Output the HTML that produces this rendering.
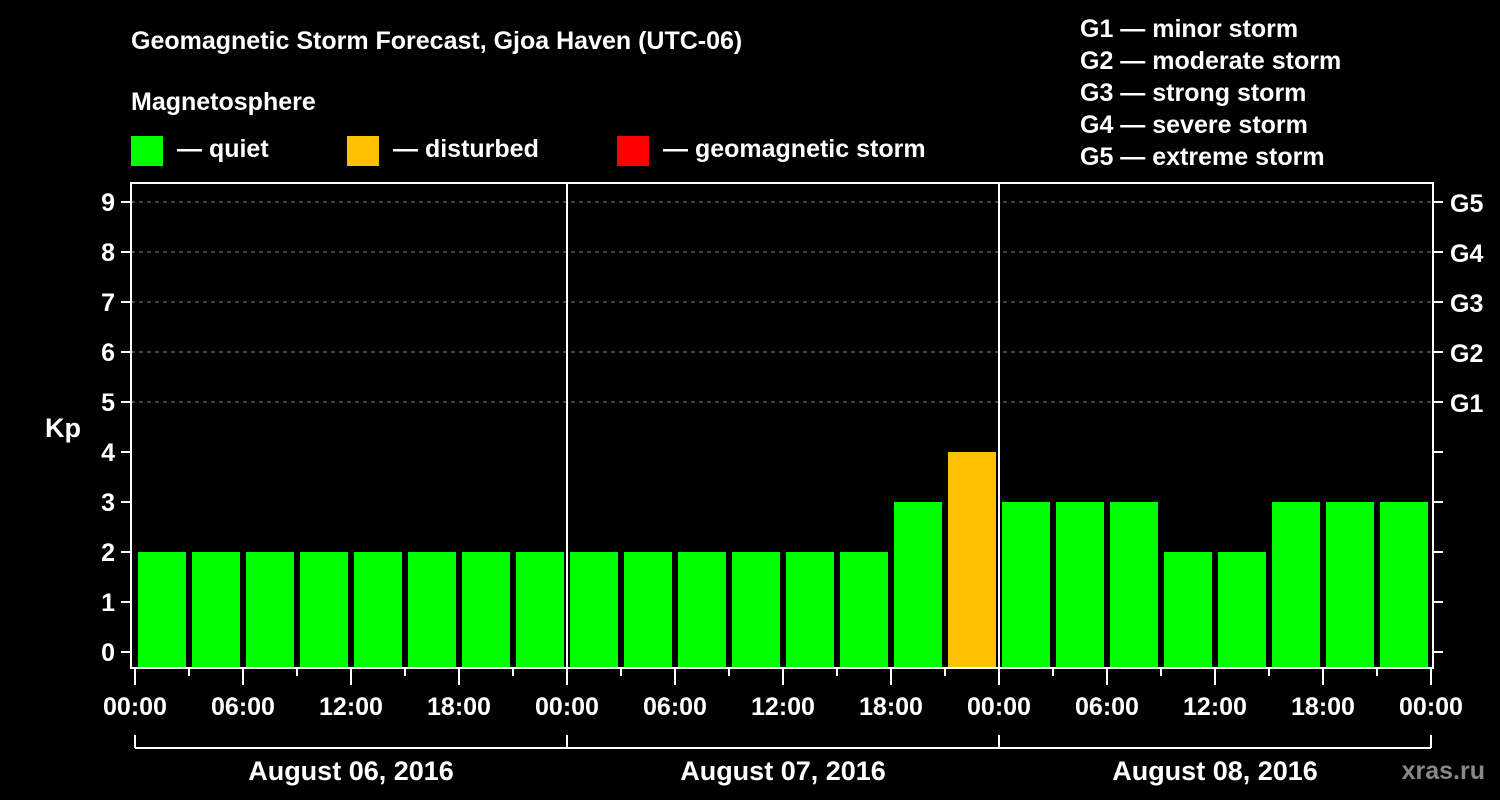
<!DOCTYPE html>
<html><head><meta charset="utf-8"><style>
html,body{margin:0;padding:0;background:#000;}
svg{display:block;font-family:"Liberation Sans",Arial,sans-serif;font-weight:bold;}
</style></head><body>
<svg id="chart" width="1500" height="800" viewBox="0 0 1500 800">
<rect width="1500" height="800" fill="#000"/>
<text x="131" y="49" fill="#fff" font-size="25">Geomagnetic Storm Forecast, Gjoa Haven (UTC-06)</text>
<text x="131" y="110" fill="#fff" font-size="25">Magnetosphere</text>
<g><rect x="131" y="136" width="32" height="30" fill="#00ff00"/><text x="177" y="157" fill="#fff" font-size="25">— quiet</text></g>
<g><rect x="347" y="136" width="32" height="30" fill="#ffc000"/><text x="393" y="157" fill="#fff" font-size="25">— disturbed</text></g>
<g><rect x="617" y="136" width="32" height="30" fill="#ff0000"/><text x="663" y="157" fill="#fff" font-size="25">— geomagnetic storm</text></g>
<g fill="#fff" font-size="25">
<text x="1080" y="37">G1 — minor storm</text>
<text x="1080" y="69">G2 — moderate storm</text>
<text x="1080" y="101">G3 — strong storm</text>
<text x="1080" y="133">G4 — severe storm</text>
<text x="1080" y="165">G5 — extreme storm</text>
</g>
<text x="63" y="437" fill="#fff" font-size="27" text-anchor="middle">Kp</text>
<text x="1485" y="779" fill="#888" font-size="25" text-anchor="end">xras.ru</text>
<g id="grid"></g><g id="bars"></g><g id="axes"></g>
</svg>
<script>
const kpValues = [2,2,2,2,2,2,2,2, 2,2,2,2,2,2,3,4, 3,3,3,2,2,3,3,3];
const dayLabels = ["August 06, 2016","August 07, 2016","August 08, 2016"];
const hourLabels = ["00:00","06:00","12:00","18:00"];
const kpTicks = [0,1,2,3,4,5,6,7,8,9];
const gLabels = ["G1","G2","G3","G4","G5"];

const NS="http://www.w3.org/2000/svg";
const x0=135, pxPerHour=18, yZero=652, pxPerKp=50;
const L=131,R=1433,T=183,B=668;
function xs(h){return x0+h*pxPerHour;}
function ys(k){return yZero-k*pxPerKp;}
function mk(tag,attrs,parent,txt){const e=document.createElementNS(NS,tag);for(const k in attrs)e.setAttribute(k,attrs[k]);if(txt!==undefined)e.textContent=txt;parent.appendChild(e);return e;}
const grid=document.getElementById('grid'),bars=document.getElementById('bars'),axes=document.getElementById('axes');
function color(k){return k>=5?'#ff0000':(k>=4?'#ffc000':'#00ff00');}
kpTicks.forEach(k=>{
 if(k>=5){const g=mk('line',{x1:L,x2:R,y1:ys(k),y2:ys(k),stroke:'#888','stroke-dasharray':'4,4','stroke-width':1},grid);
 }
 const t=mk('line',{x1:121,x2:L,y1:ys(k),y2:ys(k),stroke:'#fff','stroke-width':2},axes);
 
 const lt=mk('text',{x:115,y:ys(k)+9,fill:'#fff','font-size':25,'text-anchor':'end'},axes,String(k));
 
 const rt=mk('line',{x1:R,x2:1443,y1:ys(k),y2:ys(k),stroke:'#fff','stroke-width':2},axes);
 
});
gLabels.forEach((g,i)=>{const t=mk('text',{x:1450,y:ys(i+5)+10,fill:'#fff','font-size':25},axes,g);
 });
kpValues.forEach((k,i)=>{
 const xl=xs(i*3)+3,xr=xs(i*3+3)-3;
 const b=mk('rect',{x:xl,y:ys(k),width:xr-xl,height:B-ys(k),fill:color(k)},bars);
 
});
const frame=mk('rect',{x:L,y:T,width:R-L,height:B-T,fill:'none',stroke:'#fff','stroke-width':2},axes);

for(let d=1;d<dayLabels.length;d++){const v=mk('line',{x1:xs(d*24),x2:xs(d*24),y1:T,y2:B,stroke:'#fff','stroke-width':2},axes);
 }
const nH=dayLabels.length*24;
for(let h=0;h<=nH;h+=3){const major=h%6===0;
 const t=mk('line',{x1:xs(h),x2:xs(h),y1:B,y2:major?685:676,stroke:'#fff','stroke-width':2},axes);
 
 if(major){const lab=mk('text',{x:xs(h),y:715,fill:'#fff','font-size':25,'text-anchor':'middle'},axes,hourLabels[(h/6)%4]);
 }}
const br=mk('line',{x1:xs(0),x2:xs(nH),y1:748,y2:748,stroke:'#fff','stroke-width':2},axes);

dayLabels.forEach((d,i)=>{
 const v=mk('line',{x1:xs(i*24),x2:xs(i*24),y1:735,y2:748,stroke:'#fff','stroke-width':2},axes);
 
 const t=mk('text',{x:xs(i*24+12),y:780,fill:'#fff','font-size':27,'text-anchor':'middle'},axes,d);
 
});
const ve=mk('line',{x1:xs(nH),x2:xs(nH),y1:735,y2:748,stroke:'#fff','stroke-width':2},axes);

</script>
</body></html>
